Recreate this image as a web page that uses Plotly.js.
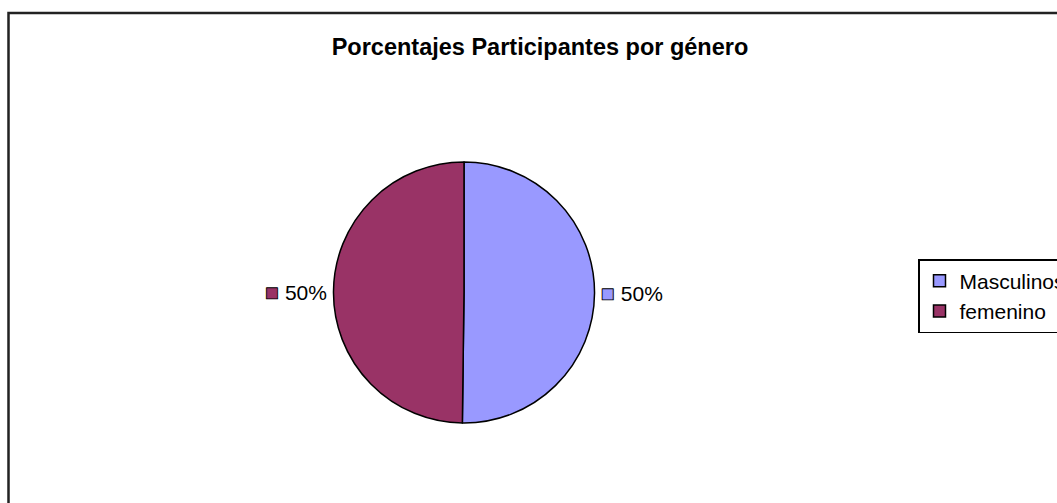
<!DOCTYPE html>
<html>
<head>
<meta charset="utf-8">
<script src="https://cdn.plot.ly/plotly-3.0.1.min.js"></script>
<style>html,body{margin:0;padding:0;background:#fff;overflow:hidden;}#wrap{width:1057px;height:503px;overflow:hidden;}#chart{width:1085px;height:503px;}</style>
</head>
<body>
<div id="wrap"><div id="chart"></div></div>
<script>
const categories = ["Masculinos", "femenino"];
const values = [50.2, 49.8];
const colors = ["#9999FF", "#993366"];
const titleText = "Porcentajes Participantes por género";

const W = 1085, H = 503;
const labelsText = colors.map(c => "<span style='color:" + c + ";font-size:23px;stroke:#000000;stroke-width:0.9px'>■</span> %{percent:.0%}");

const trace = {
  type: "pie",
  labels: categories,
  values: values,
  sort: false,
  direction: "clockwise",
  rotation: 0,
  marker: { colors: colors, line: { color: "#000000", width: 1.5 } },
  textposition: "outside",
  texttemplate: labelsText,
  textfont: { family: "Liberation Sans, Arial, sans-serif", size: 21, color: "#000000" },
  hoverinfo: "label+percent",
  domain: { x: [0, 2 * 464 / W], y: [0.159, 0.678] }
};

const layout = {
  width: W, height: H,
  margin: { l: 0, r: 0, t: 0, b: 0 },
  paper_bgcolor: "#ffffff",
  font: { family: "Liberation Sans, Arial, sans-serif", color: "#000000" },
  title: {
    text: "<b>" + titleText + "</b>",
    x: 540 / W, xanchor: "center",
    y: 1 - 47 / H, yanchor: "middle",
    font: { family: "Liberation Sans, Arial, sans-serif", size: 23.5, color: "#000000" }
  },
  showlegend: true,
  legend: {
    x: 918 / W, xanchor: "left",
    y: 1 - 259 / H, yanchor: "top",
    bgcolor: "#ffffff",
    bordercolor: "#000000", borderwidth: 1.5,
    font: { family: "Liberation Sans, Arial, sans-serif", size: 21, color: "#000000" },
    traceorder: "normal"
  },
  shapes: [{
    type: "rect", xref: "paper", yref: "paper",
    x0: 8.5 / W, x1: 1.02, y0: -0.02, y1: 1 - 13 / H,
    line: { color: "#222222", width: 2.5 }, fillcolor: "rgba(0,0,0,0)", layer: "below"
  }]
};

Plotly.newPlot("chart", [trace], layout, { displayModeBar: false, staticPlot: true });
</script>
</body>
</html>
